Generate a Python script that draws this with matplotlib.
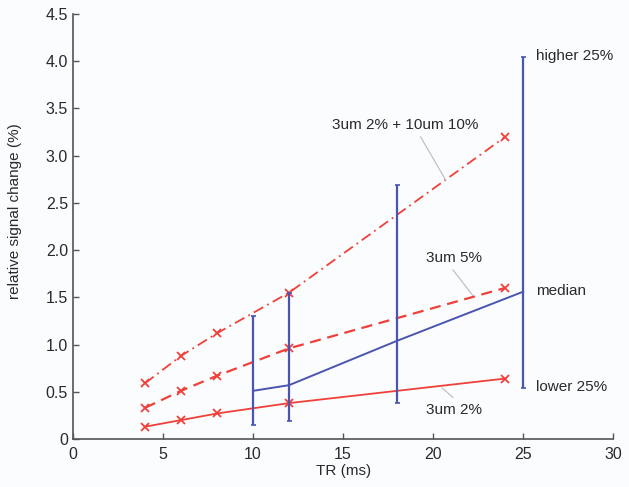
import matplotlib
matplotlib.use("Agg")
import matplotlib.pyplot as plt

plt.rcParams['font.family'] = ['Liberation Sans', 'DejaVu Sans']

tr_sim = [4, 6, 8, 12, 24]
s_2 = [0.13, 0.20, 0.27, 0.38, 0.64]
s_5 = [0.33, 0.51, 0.67, 0.96, 1.60]
s_mix = [0.59, 0.88, 1.12, 1.55, 3.20]

tr_exp = [10, 12, 18, 25]
median = [0.51, 0.57, 1.04, 1.56]
lower = [0.15, 0.19, 0.38, 0.54]
upper = [1.30, 1.55, 2.69, 4.05]

xticks = [0, 5, 10, 15, 20, 25, 30]
yticks = [0, 0.5, 1.0, 1.5, 2.0, 2.5, 3.0, 3.5, 4.0, 4.5]
yticklabels = ['0', '0.5', '1.0', '1.5', '2.0', '2.5', '3.0', '3.5', '4.0', '4.5']

red = '#f0403a'
blue = '#4a55b0'
gray = '#555555'
tc = '#2a2a2a'

fig = plt.figure(figsize=(6.29, 4.87), dpi=100)
fig.patch.set_facecolor('#fbfcfe')
ax = fig.add_axes([0.116, 0.0986, 0.859, 0.8725])
ax.set_facecolor('#fbfcfe')

ax.plot(tr_sim, s_2, color=red, lw=1.3, ls='-', marker='x', ms=5.5, mew=1.3)
ax.plot(tr_sim, s_5, color=red, lw=1.6, ls=(0, (5, 3)), marker='x', ms=5.5, mew=1.3)
ax.plot(tr_sim, s_mix, color=red, lw=1.3, ls=(0, (6, 2.5, 1, 2.5)), marker='x', ms=5.5, mew=1.3)

ax.plot(tr_exp, median, color=blue, lw=1.4)
yerr_lo = [m - l for m, l in zip(median, lower)]
yerr_hi = [u - m for m, u in zip(median, upper)]
ax.errorbar(tr_exp, median, yerr=[yerr_lo, yerr_hi], fmt='none', ecolor=blue,
            elinewidth=1.6, capsize=1.8, capthick=1.2)

fs = 11
ax.text(25.7, 4.06, 'higher 25%', fontsize=fs, va='center', color=tc)
ax.text(25.7, 1.57, 'median', fontsize=fs, va='center', color=tc)
ax.text(25.7, 0.55, 'lower 25%', fontsize=fs, va='center', color=tc)
ax.text(14.4, 3.33, '3um 2% + 10um 10%', fontsize=fs, va='center', color=tc)
ax.text(19.6, 1.92, '3um 5%', fontsize=fs, va='center', color=tc)
ax.text(19.6, 0.31, '3um 2%', fontsize=fs, va='center', color=tc)

lc = '#bbbbbb'
ax.plot([19.3, 20.7], [3.20, 2.74], color=lc, lw=0.8)
ax.plot([21.1, 22.2], [1.79, 1.52], color=lc, lw=0.8)
ax.plot([20.5, 21.1], [0.54, 0.44], color=lc, lw=0.8)

ax.set_xlim(0, 30)
ax.set_ylim(0, 4.5)
ax.set_xticks(xticks)
ax.set_yticks(yticks)
ax.set_yticklabels(yticklabels)
ax.tick_params(direction='in', length=4, width=1, colors=gray, labelcolor=tc, labelsize=11.5)
ax.tick_params(axis='x', pad=6)
for s in ['top', 'right']:
    ax.spines[s].set_visible(False)
for s in ['left', 'bottom']:
    ax.spines[s].set_color(gray)
    ax.spines[s].set_linewidth(1.2)

ax.set_xlabel('TR (ms)', fontsize=11, color=tc, labelpad=1)
ax.set_ylabel('relative signal change (%)', fontsize=11, color=tc)
ax.yaxis.set_label_coords(-0.094, 0.536)

fig.savefig('out.png', dpi=100, facecolor=fig.get_facecolor())
